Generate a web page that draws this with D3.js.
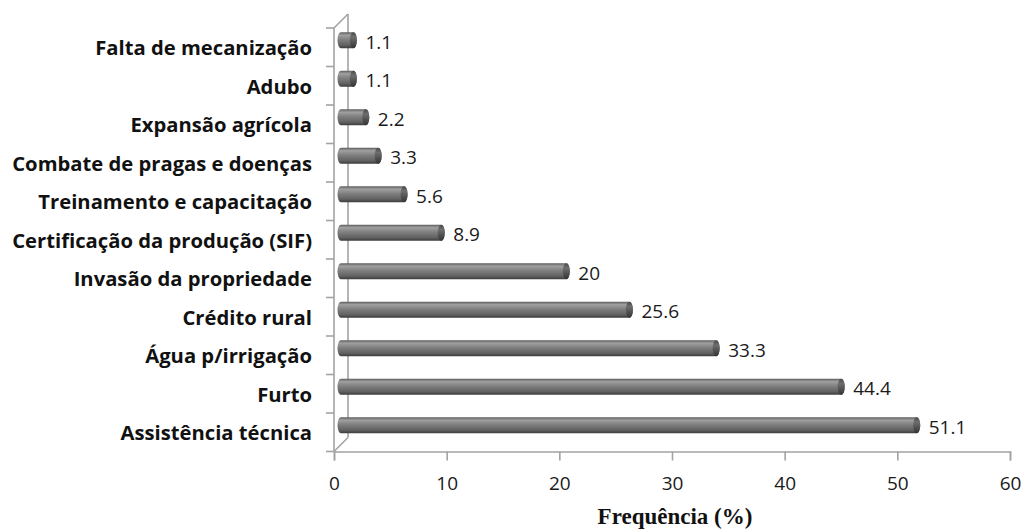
<!DOCTYPE html>
<html>
<head>
<meta charset="utf-8">
<script src="https://cdn.jsdelivr.net/npm/d3@7"></script>
<style>
  body { margin: 0; background: #fff; }
  svg { display: block; }
</style>
</head>
<body>
<div class="container"></div>
<script>
const categories = [
  "Falta de mecanização",
  "Adubo",
  "Expansão agrícola",
  "Combate de pragas e doenças",
  "Treinamento e capacitação",
  "Certificação da produção (SIF)",
  "Invasão da propriedade",
  "Crédito rural",
  "Água p/irrigação",
  "Furto",
  "Assistência técnica"
];
const values = [1.1, 1.1, 2.2, 3.3, 5.6, 8.9, 20, 25.6, 33.3, 44.4, 51.1];
const xTicks = [0, 10, 20, 30, 40, 50, 60];
const axisTitle = "Frequência (%)";

const width = 1024, height = 530;
const plot = { left: 334, right: 1010, top: 28, bottom: 451.5 };
const depth = 14;           // 3D depth of the plot box
const barH = 16;
const axisColor = "#a3a3a3";

const svg = d3.select(".container")
  .append("svg")
  .attr("width", width)
  .attr("height", height);

const defs = svg.append("defs");
const grad = defs.append("linearGradient")
  .attr("id", "cyl")
  .attr("x1", 0).attr("y1", 0).attr("x2", 0).attr("y2", 1);
[["0%", "#5c5c5c"], ["18%", "#a0a0a0"], ["45%", "#808080"], ["80%", "#626262"], ["100%", "#3c3c3c"]]
  .forEach(s => grad.append("stop").attr("offset", s[0]).attr("stop-color", s[1]));
const capGrad = defs.append("linearGradient")
  .attr("id", "cap")
  .attr("x1", 0).attr("y1", 0).attr("x2", 0).attr("y2", 1);
[["0%", "#4a4a4a"], ["30%", "#6e6e6e"], ["100%", "#333"]]
  .forEach(s => capGrad.append("stop").attr("offset", s[0]).attr("stop-color", s[1]));

const xScale = d3.scaleLinear().domain([0, 60]).range([plot.left, plot.right]);
const yScale = d3.scaleBand().domain(categories).range([plot.top, plot.bottom]);

// back wall and depth lines
const frame = svg.append("g")
  .attr("stroke", axisColor)
  .attr("stroke-width", 1.6)
  .attr("fill", "none");
frame.append("line")
  .attr("x1", plot.left + depth).attr("y1", plot.top - depth)
  .attr("x2", plot.left + depth).attr("y2", plot.bottom - depth);
frame.append("line")
  .attr("x1", plot.left).attr("y1", plot.top)
  .attr("x2", plot.left + depth).attr("y2", plot.top - depth);
frame.append("line")
  .attr("x1", plot.left).attr("y1", plot.bottom)
  .attr("x2", plot.left + depth).attr("y2", plot.bottom - depth);

// x axis
const xAxis = d3.axisBottom(xScale).tickValues(xTicks).tickSize(9).tickPadding(16);
const gx = svg.append("g")
  .attr("transform", `translate(0, ${plot.bottom})`)
  .call(xAxis);
gx.select(".domain").attr("stroke", axisColor).attr("stroke-width", 1.6);
gx.selectAll(".tick line").attr("stroke", axisColor).attr("stroke-width", 1.6);
gx.selectAll(".tick text")
  .attr("font-family", "'Open Sans', sans-serif")
  .attr("font-size", 19)
  .attr("fill", "#1a1a1a");

// y axis (ticks at band boundaries)
svg.append("line")
  .attr("x1", plot.left).attr("y1", plot.top)
  .attr("x2", plot.left).attr("y2", plot.bottom)
  .attr("stroke", axisColor).attr("stroke-width", 1.6);
const boundaries = categories.map(c => yScale(c)).concat([plot.bottom]);
svg.selectAll(".ytick")
  .data(boundaries)
  .enter()
  .append("line")
  .attr("class", "ytick")
  .attr("x1", plot.left - 8).attr("x2", plot.left)
  .attr("y1", d => d).attr("y2", d => d)
  .attr("stroke", axisColor).attr("stroke-width", 1.6);

// category labels
const labels = svg.selectAll(".cat")
  .data(categories)
  .enter()
  .append("text")
  .attr("class", "cat")
  .attr("x", 312)
  .attr("y", d => yScale(d) + yScale.bandwidth() / 2 + 1)
  .attr("dy", "0.35em")
  .attr("text-anchor", "end")
  .attr("font-family", "'Open Sans', sans-serif")
  .attr("font-weight", "bold")
  .attr("font-size", 18)
  .attr("fill", "#111")
  .text(d => d);
// fit longest label to the reference width
const longest = d3.max(labels.nodes(), n => n.getComputedTextLength());
labels.attr("font-size", 18 * 300 / longest);

// cylinders
const data = categories.map((c, i) => ({ cat: c, value: values[i] }));
const rx = 3.5;
const bars = svg.selectAll(".bar")
  .data(data)
  .enter()
  .append("g")
  .attr("class", "bar")
  .attr("transform", d => `translate(${depth / 2}, ${yScale(d.cat) + yScale.bandwidth() / 2 - depth / 2})`);

bars.append("path")
  .attr("d", d => {
    const x0 = xScale(0), x1 = xScale(d.value), h = barH / 2;
    return `M${x0},${-h} L${x1},${-h} A${rx},${h} 0 0 1 ${x1},${h} L${x0},${h} A${rx},${h} 0 0 1 ${x0},${-h} Z`;
  })
  .attr("fill", "url(#cyl)");
bars.append("ellipse")
  .attr("cx", d => xScale(d.value))
  .attr("cy", 0)
  .attr("rx", rx)
  .attr("ry", barH / 2)
  .attr("fill", "url(#cap)");

bars.append("text")
  .attr("x", d => xScale(d.value) + 12)
  .attr("y", 2)
  .attr("dy", "0.35em")
  .attr("font-family", "'Open Sans', sans-serif")
  .attr("font-size", 19)
  .attr("fill", "#1a1a1a")
  .text(d => d.value);

// axis title
svg.append("text")
  .attr("x", 675)
  .attr("y", 524)
  .attr("text-anchor", "middle")
  .attr("font-family", "'Liberation Serif', 'Times New Roman', serif")
  .attr("font-weight", "bold")
  .attr("font-size", 23)
  .attr("fill", "#111")
  .text(axisTitle);
</script>
</body>
</html>
